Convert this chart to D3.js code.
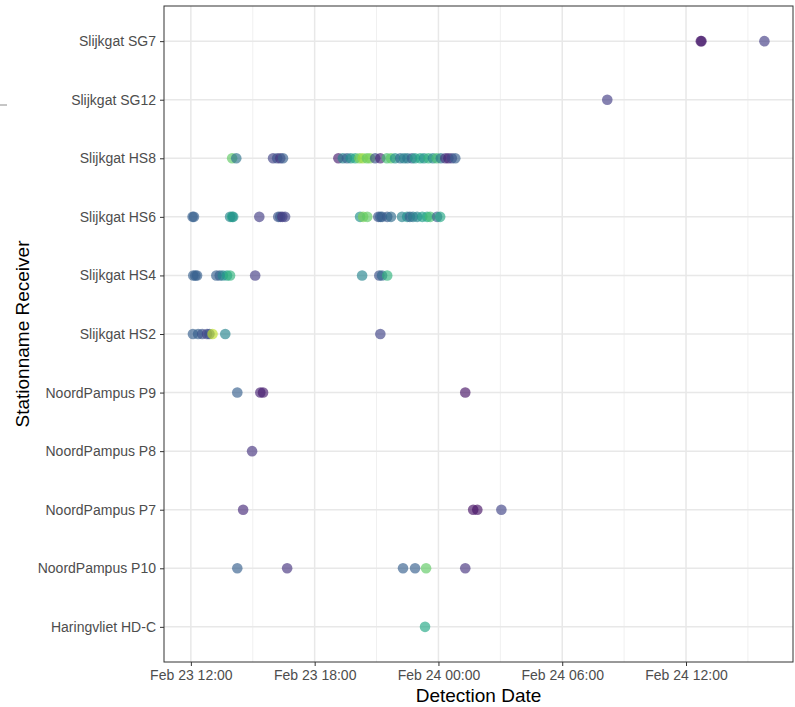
<!DOCTYPE html>
<html><head><meta charset="utf-8">
<script src="https://cdn.jsdelivr.net/npm/d3@7/dist/d3.min.js"></script>
<style>body{margin:0;background:#fff;}svg{display:block;font-family:"Liberation Sans",Arial,sans-serif;}</style>
</head><body><svg id="c" width="795" height="707"></svg>
<script>
// Stations, top to bottom
const stations = ["Slijkgat SG7","Slijkgat SG12","Slijkgat HS8","Slijkgat HS6","Slijkgat HS4","Slijkgat HS2",
  "NoordPampus P9","NoordPampus P8","NoordPampus P7","NoordPampus P10","Haringvliet HD-C"];
const xTickValues = ["2021-02-23 12:00","2021-02-23 18:00","2021-02-24 00:00","2021-02-24 06:00","2021-02-24 12:00"];
const xTickLabels = ["Feb 23 12:00","Feb 23 18:00","Feb 24 00:00","Feb 24 06:00","Feb 24 12:00"];

// detections: [time, colour value (0-1, viridis)]
const detSG7 = [["2021-02-24 12:43",0.05],["2021-02-24 12:45",0.08],["2021-02-24 15:48",0.18]];
const detSG12 = [["2021-02-24 08:11",0.18]];
const detHS8 = [["2021-02-23 14:00",0.75],["2021-02-23 14:12",0.38],["2021-02-23 15:59",0.2],["2021-02-23 16:11",0.25],
  ["2021-02-23 16:20",0.15],["2021-02-23 16:28",0.3],
  ["2021-02-23 19:09",0.08],["2021-02-23 19:22",0.45],["2021-02-23 19:34",0.3],["2021-02-23 19:45",0.5],
  ["2021-02-23 19:58",0.6],["2021-02-23 20:10",0.8],["2021-02-23 20:20",0.85],["2021-02-23 20:32",0.75],
  ["2021-02-23 20:41",0.8],["2021-02-23 20:56",0.25],["2021-02-23 21:11",0.1],["2021-02-23 21:30",0.7],
  ["2021-02-23 21:42",0.75],["2021-02-23 21:54",0.5],["2021-02-23 22:09",0.35],["2021-02-23 22:20",0.45],
  ["2021-02-23 22:30",0.4],["2021-02-23 22:43",0.3],["2021-02-23 22:52",0.55],["2021-02-23 23:07",0.6],
  ["2021-02-23 23:18",0.5],["2021-02-23 23:31",0.65],["2021-02-23 23:44",0.45],["2021-02-23 23:55",0.7],
  ["2021-02-24 00:07",0.4],["2021-02-24 00:20",0.15],["2021-02-24 00:29",0.1],["2021-02-24 00:39",0.2],
  ["2021-02-24 00:49",0.3]];
const detHS6 = [["2021-02-23 12:05",0.3],["2021-02-23 12:09",0.3],["2021-02-23 13:54",0.45],["2021-02-23 14:00",0.6],
  ["2021-02-23 14:03",0.5],["2021-02-23 15:19",0.18],["2021-02-23 16:14",0.25],["2021-02-23 16:20",0.28],
  ["2021-02-23 16:26",0.15],["2021-02-23 16:34",0.2],["2021-02-23 20:12",0.5],["2021-02-23 20:21",0.8],
  ["2021-02-23 20:33",0.75],["2021-02-23 21:05",0.25],["2021-02-23 21:11",0.3],["2021-02-23 21:16",0.3],
  ["2021-02-23 21:31",0.28],["2021-02-23 21:42",0.35],["2021-02-23 22:14",0.45],["2021-02-23 22:29",0.5],
  ["2021-02-23 22:37",0.3],["2021-02-23 22:46",0.4],["2021-02-23 22:58",0.45],["2021-02-23 23:13",0.55],
  ["2021-02-23 23:27",0.6],["2021-02-23 23:36",0.7],["2021-02-23 23:56",0.3],["2021-02-24 00:05",0.6]];
const detHS4 = [["2021-02-23 12:07",0.3],["2021-02-23 12:13",0.3],["2021-02-23 12:18",0.3],["2021-02-23 13:14",0.3],
  ["2021-02-23 13:24",0.3],["2021-02-23 13:33",0.45],["2021-02-23 13:45",0.55],["2021-02-23 13:54",0.65],
  ["2021-02-23 15:07",0.18],["2021-02-23 20:18",0.45],["2021-02-23 21:08",0.25],["2021-02-23 21:16",0.33],
  ["2021-02-23 21:31",0.65]];
const detHS2 = [["2021-02-23 12:06",0.3],["2021-02-23 12:21",0.3],["2021-02-23 12:33",0.25],["2021-02-23 12:47",0.2],
  ["2021-02-23 12:54",0.25],["2021-02-23 13:03",0.9],["2021-02-23 13:40",0.45],["2021-02-23 21:11",0.2]];
const detP9 = [["2021-02-23 14:15",0.3],["2021-02-23 15:22",0.1],["2021-02-23 15:30",0.08],["2021-02-24 01:18",0.05]];
const detP8 = [["2021-02-23 14:58",0.15]];
const detP7 = [["2021-02-23 14:32",0.12],["2021-02-24 01:41",0.05],["2021-02-24 01:53",0.05],["2021-02-24 03:03",0.2]];
const detP10 = [["2021-02-23 14:15",0.3],["2021-02-23 16:40",0.15],["2021-02-23 22:17",0.3],["2021-02-23 22:52",0.3],
  ["2021-02-23 23:24",0.75],["2021-02-24 01:18",0.15]];
const detHDC = [["2021-02-23 23:21",0.6]];

const stationDetections = [detSG7,detSG12,detHS8,detHS6,detHS4,detHS2,detP9,detP8,detP7,detP10,detHDC];

const parse = d3.utcParse("%Y-%m-%d %H:%M");
const points = [];
stationDetections.forEach((arr,i)=>arr.forEach(d=>points.push({s:stations[i], t:parse(d[0]), v:d[1]})));

const svg = d3.select("#c");
const L=164, R=793, T=6, B=662;

const ext = d3.extent(points, d=>d.t);
const pad = (ext[1]-ext[0])*0.05;
const x = d3.scaleUtc().domain([new Date(+ext[0]-pad), new Date(+ext[1]+pad)]).range([L,R]);
const y = d3.scalePoint().domain(stations).range([T,B]).padding(0.6);

// background grid
const g = svg.append("g");
const majors = xTickValues.map(parse);
const minors = d3.utcHour.every(3).range(x.domain()[0], x.domain()[1]).filter(t=>t.getUTCHours()%6!==0);
g.selectAll(".mn").data(minors).enter().append("line")
  .attr("x1",d=>x(d)).attr("x2",d=>x(d)).attr("y1",T).attr("y2",B)
  .attr("stroke","#f0f0f0").attr("stroke-width",1);
g.selectAll(".mj").data(majors).enter().append("line")
  .attr("x1",d=>x(d)).attr("x2",d=>x(d)).attr("y1",T).attr("y2",B)
  .attr("stroke","#e8e8e8").attr("stroke-width",1.5);
g.selectAll(".my").data(stations).enter().append("line")
  .attr("x1",L).attr("x2",R).attr("y1",d=>y(d)).attr("y2",d=>y(d))
  .attr("stroke","#e8e8e8").attr("stroke-width",1.5);

// points
svg.append("g").selectAll("circle").data(points).enter().append("circle")
  .attr("cx",d=>x(d.t)).attr("cy",d=>y(d.s)).attr("r",5.3)
  .attr("fill",d=>d3.interpolateViridis(d.v)).attr("fill-opacity",0.65);

// panel border
svg.append("rect").attr("x",L).attr("y",T).attr("width",R-L).attr("height",B-T)
  .attr("fill","none").attr("stroke","#333333").attr("stroke-width",1);

// axes
const xAxis = d3.axisBottom(x).tickValues(majors).tickSize(4).tickPadding(4)
  .tickFormat((d,i)=>xTickLabels[i]);
const xa = svg.append("g").attr("transform",`translate(0,${B})`).call(xAxis);
const yAxis = d3.axisLeft(y).tickSize(4).tickPadding(4);
const ya = svg.append("g").attr("transform",`translate(${L},0)`).call(yAxis);
[xa,ya].forEach(a=>{
  a.select(".domain").remove();
  a.selectAll(".tick line").attr("stroke","#333333");
  a.selectAll(".tick text").attr("fill","#4d4d4d").style("font-size","14px")
   .style("font-family","'Liberation Sans',Arial,sans-serif");
});

// axis titles
svg.append("text").attr("x",(L+R)/2).attr("y",702).attr("text-anchor","middle")
  .style("font-size","19px").attr("fill","#000").text("Detection Date");
svg.append("text").attr("transform",`translate(29,${(T+B)/2}) rotate(-90)`).attr("text-anchor","middle")
  .style("font-size","19px").attr("fill","#000").text("Stationname Receiver");

// stray legend mark at left edge
svg.append("line").attr("x1",0).attr("x2",7).attr("y1",105).attr("y2",105).attr("stroke","#8c8c8c").attr("stroke-width",1);
</script></body></html>
